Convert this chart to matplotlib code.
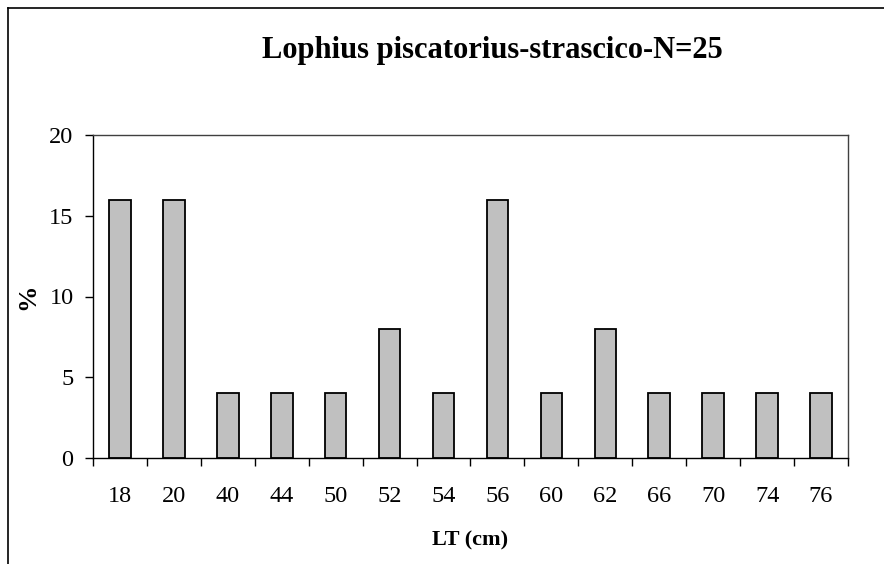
import matplotlib
matplotlib.use('Agg')
import matplotlib.pyplot as plt
import numpy as np

# dati: frequenza percentuale per classe di lunghezza
classi = ['18', '20', '40', '44', '50', '52', '54', '56', '60', '62', '66', '70', '74', '76']
perc = [16, 16, 4, 4, 4, 8, 4, 16, 4, 8, 4, 4, 4, 4]
titolo = 'Lophius piscatorius-strascico-N=25'

plt.rcParams['font.family'] = ['Liberation Serif', 'DejaVu Serif']

fig = plt.figure(figsize=(8.84, 5.64), dpi=100)
ax = fig.add_axes([93/884, 1-458/564, (848-93)/884, (458-135)/564])

x = np.arange(len(classi))
ax.bar(x, perc, width=0.4, color='#c0c0c0', edgecolor='black', linewidth=1.3, zorder=2)

ax.set_xlim(-0.5, len(classi)-0.5)
ax.set_ylim(0, 20)
ax.set_yticks([0, 5, 10, 15, 20])
ax.tick_params(axis='y', labelsize=17.5, direction='out', length=6, width=1, pad=8)
# tacche tra le categorie, etichette al centro
ax.set_xticks(np.arange(-0.5, len(classi), 1))
ax.set_xticklabels([])
ax.set_xticks(x, minor=True)
ax.set_xticklabels(classi, minor=True)
ax.tick_params(axis='x', which='major', direction='out', length=6, width=1)
ax.tick_params(axis='x', which='minor', length=0, labelsize=17.5, pad=20)
for s in ['left', 'bottom']:
    ax.spines[s].set_color('black')
    ax.spines[s].set_linewidth(1)
for s in ['top', 'right']:
    ax.spines[s].set_color('#404040')
    ax.spines[s].set_linewidth(1)

ax.set_ylabel('%', fontsize=19, fontweight='bold', labelpad=7)
ax.set_xlabel('LT (cm)', fontsize=16, fontweight='bold', labelpad=17)
fig.text(492/884, 1-58/564, titolo, ha='center', va='baseline', fontsize=22, fontweight='bold')

# bordo del grafico (solo sinistra e alto visibili)
fig.add_artist(plt.Line2D([8/884, 8/884], [0, 1-8/564], color='black', lw=1.2))
fig.add_artist(plt.Line2D([8/884, 1], [1-8/564, 1-8/564], color='black', lw=1.2))

fig.savefig('out.png', dpi=100)
